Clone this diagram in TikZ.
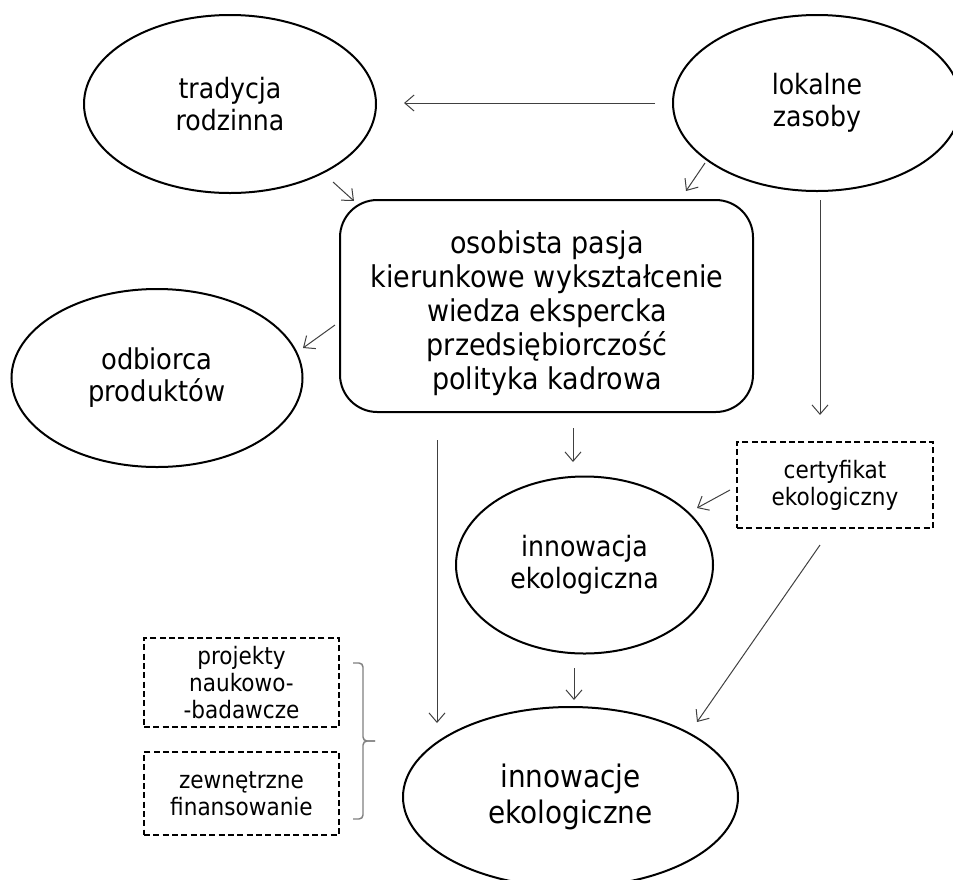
\documentclass[tikz,border=0pt]{standalone}
\usepackage{fontspec}
\setmainfont{DejaVu Sans Condensed}
\usetikzlibrary{arrows.meta,shapes.geometric}

\tikzset{
  oval/.style={draw=black, line width=1.5pt, ellipse, inner sep=0pt, align=center,
    font=\fontsize{21}{24}\selectfont},
  mainbox/.style={draw=black, line width=1.5pt, rectangle, rounded corners=28pt,
    inner sep=0pt, minimum width=309.75pt, minimum height=159pt},
  boxtext/.style={inner sep=0pt, align=center, font=\fontsize{22.5}{25.5}\selectfont},
  dashbox/.style={draw=black, line width=1.5pt, dash pattern=on 4.5pt off 2.5pt,
    rectangle, inner sep=0pt, align=center, font=\fontsize{18}{20.25}\selectfont,
    minimum width=146.25pt},
  arr/.style={draw=black!75, line width=0.75pt,
    -{Straight Barb[length=7pt,width=12pt,line width=0.75pt]}},
  bracestyle/.style={draw=black!50, line width=1.1pt, rounded corners=3pt}
}

\begin{document}
\begin{tikzpicture}[x=0.75pt, y=-0.75pt]
  \useasboundingbox (0,0) rectangle (953,879);
  \clip (0,0) rectangle (953,879);

  % ovals
  \node[oval, minimum width=219pt, minimum height=133.5pt] (trad) at (230,104) {tradycja\\rodzinna};
  \node[oval, minimum width=216pt, minimum height=132pt] (lok) at (817,103) {lokalne\\zasoby};
  \node[oval, minimum width=218.25pt, minimum height=133.5pt, font=\fontsize{21.5}{24}\selectfont] (odb) at (157,378) {odbiorca\\produktów};
  \node[oval, minimum width=192.75pt, minimum height=132.75pt] (innA) at (584.5,565) {innowacja\\ekologiczna};
  \node[oval, minimum width=251.25pt, minimum height=135pt,
        font=\fontsize{23.25}{26.5}\selectfont] (innB) at (570.5,797) {innowacje\\ekologiczne};

  % central box and its text
  \node[mainbox] (box) at (546.5,306) {};
  \node[boxtext] (boxtxt) at (547,313)
    {osobista pasja\\kierunkowe wykształcenie\\wiedza ekspercka\\przedsiębiorczość\\polityka kadrowa};

  % dashed boxes
  \node[dashbox, minimum width=147pt, minimum height=64.5pt] (cert) at (835,485) {certyfikat\\ekologiczny};
  \node[dashbox, minimum height=66.75pt] (proj) at (241.5,682.5) {projekty\\naukowo-\\-badawcze};
  \node[dashbox, minimum height=62.25pt] (zew) at (241.5,793.5) {zewnętrzne\\finansowanie};

  % free ends of the connectors
  \coordinate (lokW) at (655,103);   \coordinate (tradE) at (404,103);
  \coordinate (tradSE) at (333,182); \coordinate (boxNW) at (354,201);
  \coordinate (lokSW) at (705,163);  \coordinate (boxNE) at (686,191);
  \coordinate (boxW) at (335,325);   \coordinate (odbE) at (303,348);
  \coordinate (lokS) at (820,200);   \coordinate (certN) at (820,415);
  \coordinate (boxS) at (573,428);   \coordinate (innAN) at (573,462);
  \coordinate (certW) at (730,490);  \coordinate (innANE) at (697,508);
  \coordinate (boxSW) at (437,440);  \coordinate (innBNW) at (437,723);
  \coordinate (innAS) at (574,668);  \coordinate (innBN) at (574,700);
  \coordinate (certS) at (820,545);  \coordinate (innBNE) at (697,722);

  % connectors
  \draw[arr] (lokW) -- (tradE);
  \draw[arr] (tradSE) -- (boxNW);
  \draw[arr] (lokSW) -- (boxNE);
  \draw[arr] (boxW) -- (odbE);
  \draw[arr] (lokS) -- (certN);
  \draw[arr] (boxS) -- (innAN);
  \draw[arr] (certW) -- (innANE);
  \draw[arr] (boxSW) -- (innBNW);
  \draw[arr] (innAS) -- (innBN);
  \draw[arr] (certS) -- (innBNE);

  % brace joining the two funding boxes
  \draw[bracestyle] (353,663) -- (363,663) -- (363,741) -- (375,741);
  \draw[bracestyle] (375,741) -- (363,741) -- (363,819) -- (353,819);
\end{tikzpicture}
\end{document}
